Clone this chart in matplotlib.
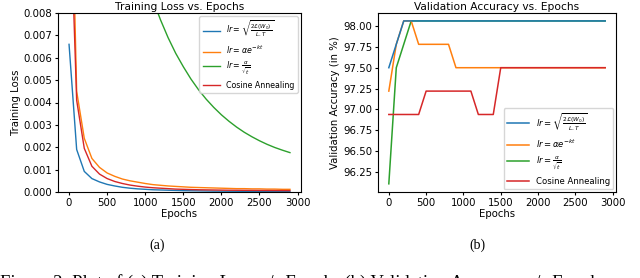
import matplotlib
matplotlib.use("Agg")
import matplotlib.pyplot as plt
from matplotlib.ticker import MultipleLocator, FormatStrFormatter

epochs = list(range(0, 3000, 100))

loss_sqrt = [0.0066, 0.0019, 0.00092, 0.0006, 0.00045, 0.00034, 0.00027, 0.00021, 0.00017, 0.00014,
             0.00012, 0.0001, 0.00009, 0.00008, 0.00007, 0.00006, 0.000055, 0.00005, 0.000045, 0.00004,
             0.000038, 0.000035, 0.000033, 0.00003, 0.000028, 0.000027, 0.000025, 0.000024, 0.000023, 0.000022]
loss_exp = [0.019, 0.0045, 0.0024, 0.0015, 0.0011, 0.00085, 0.0007, 0.00058, 0.0005, 0.00044,
            0.00038, 0.00033, 0.0003, 0.00027, 0.00025, 0.00023, 0.00021, 0.0002, 0.00019, 0.00018,
            0.00017, 0.00016, 0.00015, 0.00015, 0.00014, 0.00014, 0.00013, 0.00013, 0.00012, 0.00012]
loss_invsqrt = [0.08, 0.05, 0.038, 0.031, 0.026, 0.022, 0.019, 0.016, 0.014, 0.0118,
                0.0101, 0.0086, 0.0077, 0.0069, 0.0062, 0.0056, 0.00505, 0.00457, 0.00415, 0.00378,
                0.00345, 0.00316, 0.0029, 0.00267, 0.00247, 0.00229, 0.00213, 0.00199, 0.00187, 0.00176]
loss_cos = [0.0145, 0.0041, 0.00195, 0.00115, 0.0008, 0.0006, 0.00047, 0.00038, 0.00031, 0.00026,
            0.00022, 0.00019, 0.00017, 0.00015, 0.00013, 0.00012, 0.00011, 0.0001, 0.000095, 0.00009,
            0.000085, 0.00008, 0.000078, 0.000075, 0.000072, 0.00007, 0.000068, 0.000066, 0.000064, 0.000062]

acc_sqrt = [97.50, 97.78, 98.06] + [98.06] * 27
acc_exp = [97.22, 97.78, 98.06, 98.06, 97.78, 97.78, 97.78, 97.78, 97.78] + [97.50] * 21
acc_invsqrt = [96.11, 97.50, 97.78, 98.06] + [98.06] * 26
acc_cos = [96.94, 96.94, 96.94, 96.94, 96.94, 97.22, 97.22, 97.22, 97.22, 97.22, 97.22, 97.22,
           96.94, 96.94, 96.94] + [97.50] * 15

labels = [r"$lr=\sqrt{\frac{2\mathcal{L}(W_0)}{L.T}}$", r"$lr=\alpha e^{-kt}$",
          r"$lr=\frac{\alpha}{\sqrt{t}}$", "Cosine Annealing"]
colors = ["#1f77b4", "#ff7f0e", "#2ca02c", "#d62728"]

plt.rcParams["font.family"] = "DejaVu Sans"
plt.rcParams["font.size"] = 7.3

fig = plt.figure(figsize=(6.4, 2.78), dpi=100)
W, H = 640, 278
ax1 = fig.add_axes([58 / W, 1 - 192 / H, 243 / W, 179 / H])
ax2 = fig.add_axes([378 / W, 1 - 192 / H, 238 / W, 179 / H])

for ys, lab, c in zip([loss_sqrt, loss_exp, loss_invsqrt, loss_cos], labels, colors):
    ax1.plot(epochs, ys, color=c, lw=1.0, label=lab)
ax1.set_ylim(0, 0.008)
ax1.set_xlim(-145, 3045)
ax1.set_title("Training Loss vs. Epochs", fontsize=7.7, pad=2)
ax1.set_xlabel("Epochs", labelpad=1)
ax1.set_ylabel("Training Loss", labelpad=2)
ax1.legend(loc="upper right", fontsize=5.7, handlelength=2.2, borderaxespad=0.4, labelspacing=0.45)

zs = [3, 2, 1, 4]
for ys, lab, c, z in zip([acc_sqrt, acc_exp, acc_invsqrt, acc_cos], labels, colors, zs):
    ax2.plot(epochs, ys, color=c, lw=1.1, label=lab, zorder=z)
ax2.set_xlim(-145, 3045)
ax2.set_ylim(96.012, 98.155)
ax2.yaxis.set_major_locator(MultipleLocator(0.25))
ax2.yaxis.set_major_formatter(FormatStrFormatter("%.2f"))
ax2.set_title("Validation Accuracy vs. Epochs", fontsize=7.7, pad=2)
ax2.set_xlabel("Epochs", labelpad=1)
ax2.set_ylabel("Validation Accuracy (in %)", labelpad=2)
ax2.legend(loc="lower right", fontsize=6.1, handlelength=2.6, borderaxespad=0.3, labelspacing=0.6)

for ax in (ax1, ax2):
    ax.tick_params(labelsize=7.3, length=2.5, pad=1.5)

fig.text(157 / W, 1 - 245 / H, "(a)", ha="center", va="center", family="Liberation Serif", fontsize=10)
fig.text(477 / W, 1 - 245 / H, "(b)", ha="center", va="center", family="Liberation Serif", fontsize=10)
fig.text(0 / W, 1 - 288 / H, "Figure 2: Plot of (a) Training Loss v/s Epochs (b) Validation Accuracy v/s Epochs",
         ha="left", va="baseline", family="Liberation Serif", fontsize=13.3)

fig.savefig("out.png", dpi=100)
